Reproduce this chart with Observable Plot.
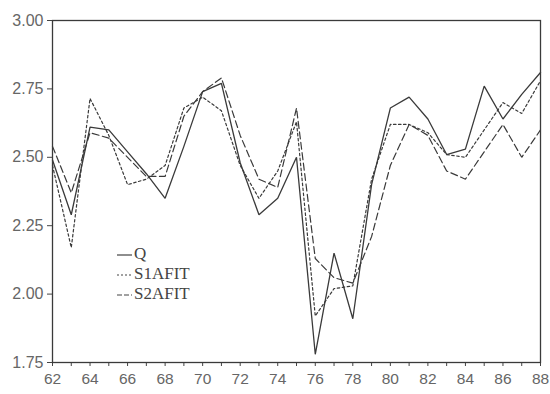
<!DOCTYPE html>
<html>
<head>
<meta charset="utf-8">
<script src="https://cdn.jsdelivr.net/npm/d3@7"></script>
<script src="https://cdn.jsdelivr.net/npm/@observablehq/plot@0.6"></script>
<style>
  html, body { margin: 0; padding: 0; background: #fff; }
  #wrap { position: relative; width: 550px; height: 394px; }
  #legend { position: absolute; left: 116px; top: 244px; font-family: "Liberation Serif", "DejaVu Serif", serif; font-size: 17px; color: #444; line-height: 20px; }
  #legend .row { display: flex; align-items: center; height: 20px; }
  #legend svg { width: 18px; height: 20px; }
</style>
</head>
<body>
<div id="wrap"><div id="chart"></div><div id="legend"></div></div>
<script>
const years = [62,63,64,65,66,67,68,69,70,71,72,73,74,75,76,77,78,79,80,81,82,83,84,85,86,87,88];
const Q     = [2.49,2.29,2.61,2.60,2.52,2.44,2.35,2.54,2.74,2.77,2.48,2.29,2.35,2.50,1.78,2.15,1.91,2.40,2.68,2.72,2.64,2.51,2.53,2.76,2.64,2.73,2.81];
const S1AFIT= [2.47,2.17,2.715,2.58,2.40,2.42,2.47,2.68,2.72,2.67,2.47,2.35,2.45,2.63,1.92,2.02,2.03,2.42,2.62,2.62,2.59,2.51,2.50,2.60,2.70,2.66,2.78];
const S2AFIT= [2.54,2.37,2.59,2.57,2.50,2.43,2.43,2.65,2.74,2.79,2.58,2.42,2.39,2.68,2.13,2.06,2.04,2.21,2.47,2.62,2.58,2.45,2.42,2.52,2.62,2.50,2.60];
const seriesNames = ["Q","S1AFIT","S2AFIT"];
const yTicks = [1.75,2.00,2.25,2.50,2.75,3.00];
const xLabelTicks = [62,64,66,68,70,72,74,76,78,80,82,84,86,88];

const styles = {
  Q:      {dash: null,  width: 1.3},
  S1AFIT: {dash: "2.5,2.5", width: 1.2},
  S2AFIT: {dash: "7,3.5", width: 1.2}
};
const seriesData = {Q, S1AFIT, S2AFIT};
const rows = [];
for (const s of seriesNames) years.forEach((yr, i) => rows.push({series: s, year: yr, value: seriesData[s][i]}));

const lineMarks = seriesNames.map(s => Plot.line(rows.filter(d => d.series === s), {
  x: "year", y: "value", stroke: "#3a3a3a", strokeWidth: styles[s].width,
  strokeDasharray: styles[s].dash, strokeLinejoin: "miter"
}));

const chart = Plot.plot({
  width: 550, height: 394,
  marginLeft: 52, marginRight: 10, marginTop: 20, marginBottom: 32,
  style: {fontFamily: "'Liberation Sans', Arial, sans-serif", fontSize: "15.5px", color: "#666", background: "#fff"},
  x: {domain: [62, 88]},
  y: {domain: [1.75, 3.00]},
  marks: [
    ...lineMarks,
    Plot.axisY({ticks: yTicks, tickFormat: d3.format(".2f"), tickSize: 5, tickPadding: 4, label: null, stroke: "#444", fontSize: 16}),
    Plot.axisX({ticks: years, tickFormat: d => xLabelTicks.includes(d) ? String(d) : "", tickSize: 4, tickPadding: 6, label: null, stroke: "#444", fontSize: 15.5}),
    Plot.frame({stroke: "#3a3a3a", strokeWidth: 1.3})
  ]
});
document.getElementById("chart").appendChild(chart);

const legend = document.getElementById("legend");
for (const s of seriesNames) {
  const row = document.createElement("div");
  row.className = "row";
  const dash = styles[s].dash ? `stroke-dasharray="${s === "S1AFIT" ? "2,2" : "5,2"}"` : "";
  row.innerHTML = `<svg viewBox="0 0 18 20"><line x1="1" x2="16" y1="11" y2="11" stroke="#444" stroke-width="1.2" ${dash}/></svg><span>${s}</span>`;
  legend.appendChild(row);
}
</script>
</body>
</html>
